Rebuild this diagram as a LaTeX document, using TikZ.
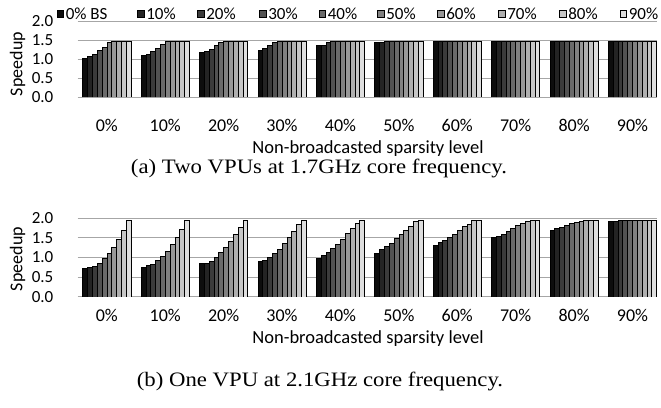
\documentclass[tikz,border=0pt]{standalone}
\usepackage{fontspec}
\setmainfont{Liberation Serif}
\newfontfamily\chartfont{Carlito}
\newcommand\widecap[1]{\scalebox{1.11}[1]{#1}}
\begin{document}
\begin{tikzpicture}[x=1pt,y=1pt,
  grid/.style={draw=black!35,line width=0.9pt},
  bar/.style={draw=black,line width=0.7pt},
  tick/.style={anchor=east,inner sep=0pt,font=\chartfont\fontsize{17}{17}\selectfont},
  cat/.style={inner sep=0pt,font=\chartfont\fontsize{18}{18}\selectfont},
  axtitle/.style={inner sep=0pt,font=\chartfont\fontsize{18.5}{18.5}\selectfont},
  ylab/.style={inner sep=0pt,rotate=90,font=\chartfont\fontsize{18}{18}\selectfont},
  leg/.style={anchor=west,inner sep=0pt,font=\chartfont\fontsize{17}{17}\selectfont},
  capt/.style={inner sep=0pt,font=\fontsize{20.5}{20.5}\selectfont}]
\useasboundingbox (0,0) rectangle (661,407);
% ---------- chart (a) ----------
\def\baseA{309.5}\def\unitA{38}
\foreach \i/\t in {0/0.0,1/0.5,2/1.0,3/1.5,4/2.0}{
  \draw[grid] (77.7,\baseA+\i*0.5*\unitA) -- (656.5,\baseA+\i*0.5*\unitA);
  \node[tick] (ta\i) at (53.5,\baseA+\i*0.5*\unitA) {\t};
}
\foreach \vals [count=\k from 0] in {
 {1.02,1.07,1.13,1.23,1.32,1.46,1.48,1.48,1.48,1.48},
 {1.10,1.14,1.21,1.30,1.40,1.48,1.48,1.48,1.48,1.48},
 {1.18,1.21,1.28,1.37,1.44,1.48,1.48,1.48,1.48,1.48},
 {1.25,1.30,1.37,1.44,1.48,1.48,1.48,1.48,1.48,1.48},
 {1.36,1.38,1.44,1.48,1.48,1.48,1.48,1.48,1.48,1.48},
 {1.44,1.46,1.48,1.48,1.48,1.48,1.48,1.48,1.48,1.48},
 {1.48,1.48,1.48,1.48,1.48,1.48,1.48,1.48,1.48,1.48},
 {1.48,1.48,1.48,1.48,1.48,1.48,1.48,1.48,1.48,1.48},
 {1.48,1.48,1.48,1.48,1.48,1.48,1.48,1.48,1.48,1.48},
 {1.48,1.48,1.48,1.48,1.48,1.48,1.48,1.48,1.48,1.48}}{
  \foreach \v [count=\j from 0] in \vals {
    \pgfmathsetmacro\xa{82.7+58.4*\k+4.83*\j}
    \pgfmathsetmacro\pc{95-9.1*\j}
    \fill[black!\pc!white] (\xa,\baseA) rectangle (\xa+4.83,\baseA+\v*\unitA);
    \draw[bar] (\xa,\baseA) |- (\xa+4.83,\baseA+\v*\unitA) -- (\xa+4.83,\baseA);
  }
}
\foreach \c [count=\k from 0] in {0\%,10\%,20\%,30\%,40\%,50\%,60\%,70\%,80\%,90\%}{
  \node[cat] (ca\k) at (106.85+58.4*\k,282) {\c};
}
\node[axtitle] (xa) at (368,258) {Non-broadcasted sparsity level};
\node[ylab] (ya) at (17.5,343) {Speedup};
\node[capt] (capa) at (319,239) {\widecap{(a) Two VPUs at 1.7GHz core frequency.}};
% legend
\foreach \x/\l [count=\j from 0] in {56.5/0\% BS,137/10\%,197/20\%,259/30\%,318.5/40\%,377/50\%,437/60\%,498/70\%,559/80\%,619.5/90\%}{
  \pgfmathsetmacro\pc{95-9.1*\j}
  \node[draw=black,line width=0.6pt,fill=black!\pc!white,minimum size=6.5pt,inner sep=0pt,anchor=west] (ls\j) at (\x,393) {};
  \node[leg] (lt\j) at ([xshift=2pt]ls\j.east) {\l};
}
% ---------- chart (b) ----------
\def\baseB{110.3}\def\unitB{39.2}
\foreach \i/\t in {0/0.0,1/0.5,2/1.0,3/1.5,4/2.0}{
  \draw[grid] (77.7,\baseB+\i*0.5*\unitB) -- (656.5,\baseB+\i*0.5*\unitB);
  \node[tick] (tb\i) at (53.5,\baseB+\i*0.5*\unitB) {\t};
}
\foreach \vals [count=\k from 0] in {
 {0.72,0.74,0.78,0.86,0.98,1.11,1.25,1.46,1.68,1.95},
 {0.76,0.79,0.83,0.92,1.03,1.16,1.33,1.51,1.73,1.95},
 {0.84,0.86,0.89,1.00,1.12,1.26,1.40,1.60,1.76,1.96},
 {0.91,0.94,1.00,1.11,1.20,1.35,1.51,1.66,1.85,1.96},
 {0.98,1.05,1.12,1.23,1.33,1.46,1.62,1.74,1.88,1.96},
 {1.11,1.20,1.28,1.35,1.48,1.58,1.69,1.80,1.92,1.96},
 {1.31,1.38,1.44,1.51,1.60,1.70,1.80,1.85,1.96,1.96},
 {1.51,1.54,1.58,1.66,1.74,1.81,1.88,1.92,1.96,1.96},
 {1.70,1.74,1.76,1.81,1.86,1.89,1.93,1.96,1.96,1.96},
 {1.91,1.93,1.96,1.96,1.96,1.96,1.96,1.96,1.96,1.96}}{
  \foreach \v [count=\j from 0] in \vals {
    \pgfmathsetmacro\xa{82.7+58.4*\k+4.83*\j}
    \pgfmathsetmacro\pc{95-9.1*\j}
    \fill[black!\pc!white] (\xa,\baseB) rectangle (\xa+4.83,\baseB+\v*\unitB);
    \draw[bar] (\xa,\baseB) |- (\xa+4.83,\baseB+\v*\unitB) -- (\xa+4.83,\baseB);
  }
}
\foreach \c [count=\k from 0] in {0\%,10\%,20\%,30\%,40\%,50\%,60\%,70\%,80\%,90\%}{
  \node[cat] (cb\k) at (106.85+58.4*\k,92) {\c};
}
\node[axtitle] (xb) at (368,68) {Non-broadcasted sparsity level};
\node[ylab] (yb) at (17.5,148) {Speedup};
\node[capt] (capb) at (320,26) {\widecap{(b) One VPU at 2.1GHz core frequency.}};
\end{tikzpicture}
\end{document}
